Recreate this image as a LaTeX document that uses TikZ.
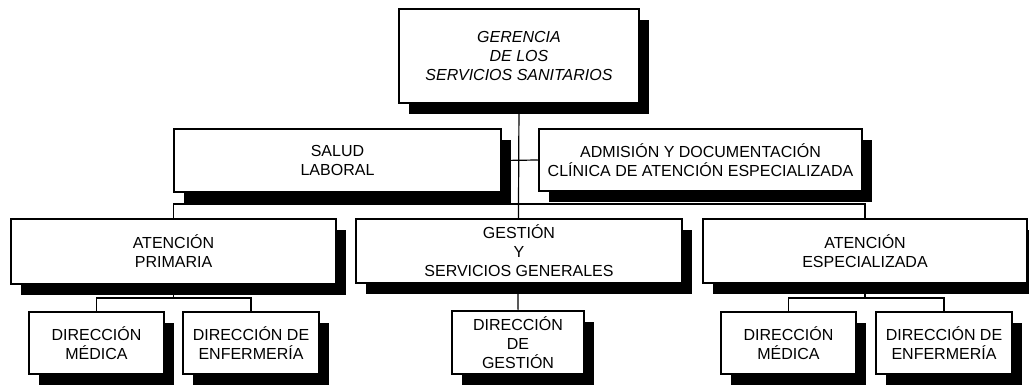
\documentclass[tikz,border=0pt]{standalone}
\usepackage{fontspec}
\setmainfont{Liberation Sans}
\usetikzlibrary{shadows,backgrounds}
\begin{document}
\begin{tikzpicture}[x=1pt,y=-1pt,
  obox/.style={draw=black,line width=2.5pt,fill=white,inner sep=0pt,
    align=center,font=\fontsize{16}{19}\selectfont,
    drop shadow={shadow xshift=10pt,shadow yshift=-11pt,fill=black,opacity=1}},
  conn/.style={draw=black,line width=1.2pt}]
\useasboundingbox (0,0) rectangle (1029,387);
\node[obox,minimum width=240pt,minimum height=94pt,font=\fontsize{16}{19}\selectfont\itshape] (ger) at (519,56) {GERENCIA\\DE LOS\\SERVICIOS SANITARIOS};
\node[obox,minimum width=327pt,minimum height=63pt] (salud) at (337.5,160.5) {SALUD\\LABORAL};
\node[obox,minimum width=323pt,minimum height=62pt] (adm) at (700.5,160) {ADMISIÓN Y DOCUMENTACIÓN\\CLÍNICA DE ATENCIÓN ESPECIALIZADA};
\node[obox,minimum width=325pt,minimum height=65pt] (ap) at (173.5,251.5) {ATENCIÓN\\PRIMARIA};
\node[obox,minimum width=326pt,minimum height=64pt] (gsg) at (519,251) {GESTIÓN\\Y\\SERVICIOS GENERALES};
\node[obox,minimum width=324pt,minimum height=64pt] (ae) at (865,251) {ATENCIÓN\\ESPECIALIZADA};
\node[obox,minimum width=135pt,minimum height=62pt] (dm1) at (96.5,343) {DIRECCIÓN\\MÉDICA};
\node[obox,minimum width=136pt,minimum height=62pt] (de1) at (251,343) {DIRECCIÓN DE\\ENFERMERÍA};
\node[obox,minimum width=132pt,minimum height=63pt] (dg) at (518,342.5) {DIRECCIÓN\\DE\\GESTIÓN};
\node[obox,minimum width=135pt,minimum height=62pt] (dm2) at (788.5,343) {DIRECCIÓN\\MÉDICA};
\node[obox,minimum width=136pt,minimum height=62pt] (de2) at (944,343) {DIRECCIÓN DE\\ENFERMERÍA};
\coordinate (bus) at (519,204);
\coordinate (b1) at (173.5,298);
\coordinate (b3) at (865,298);
\begin{scope}[on background layer]
\fill[white] (0,0) rectangle (1029,387);
\draw[conn] (ger.south) -- (dg.north);
\draw[conn] (salud.east) -- (adm.west);
\draw[conn] (ap.north) |- (bus) -| (ae.north);
\draw[conn] (dm1.north) |- (b1) -| (de1.north);
\draw[conn] (ap.south) -- (b1);
\draw[conn] (dm2.north) |- (b3) -| (de2.north);
\draw[conn] (ae.south) -- (b3);
\end{scope}
\end{tikzpicture}
\end{document}
